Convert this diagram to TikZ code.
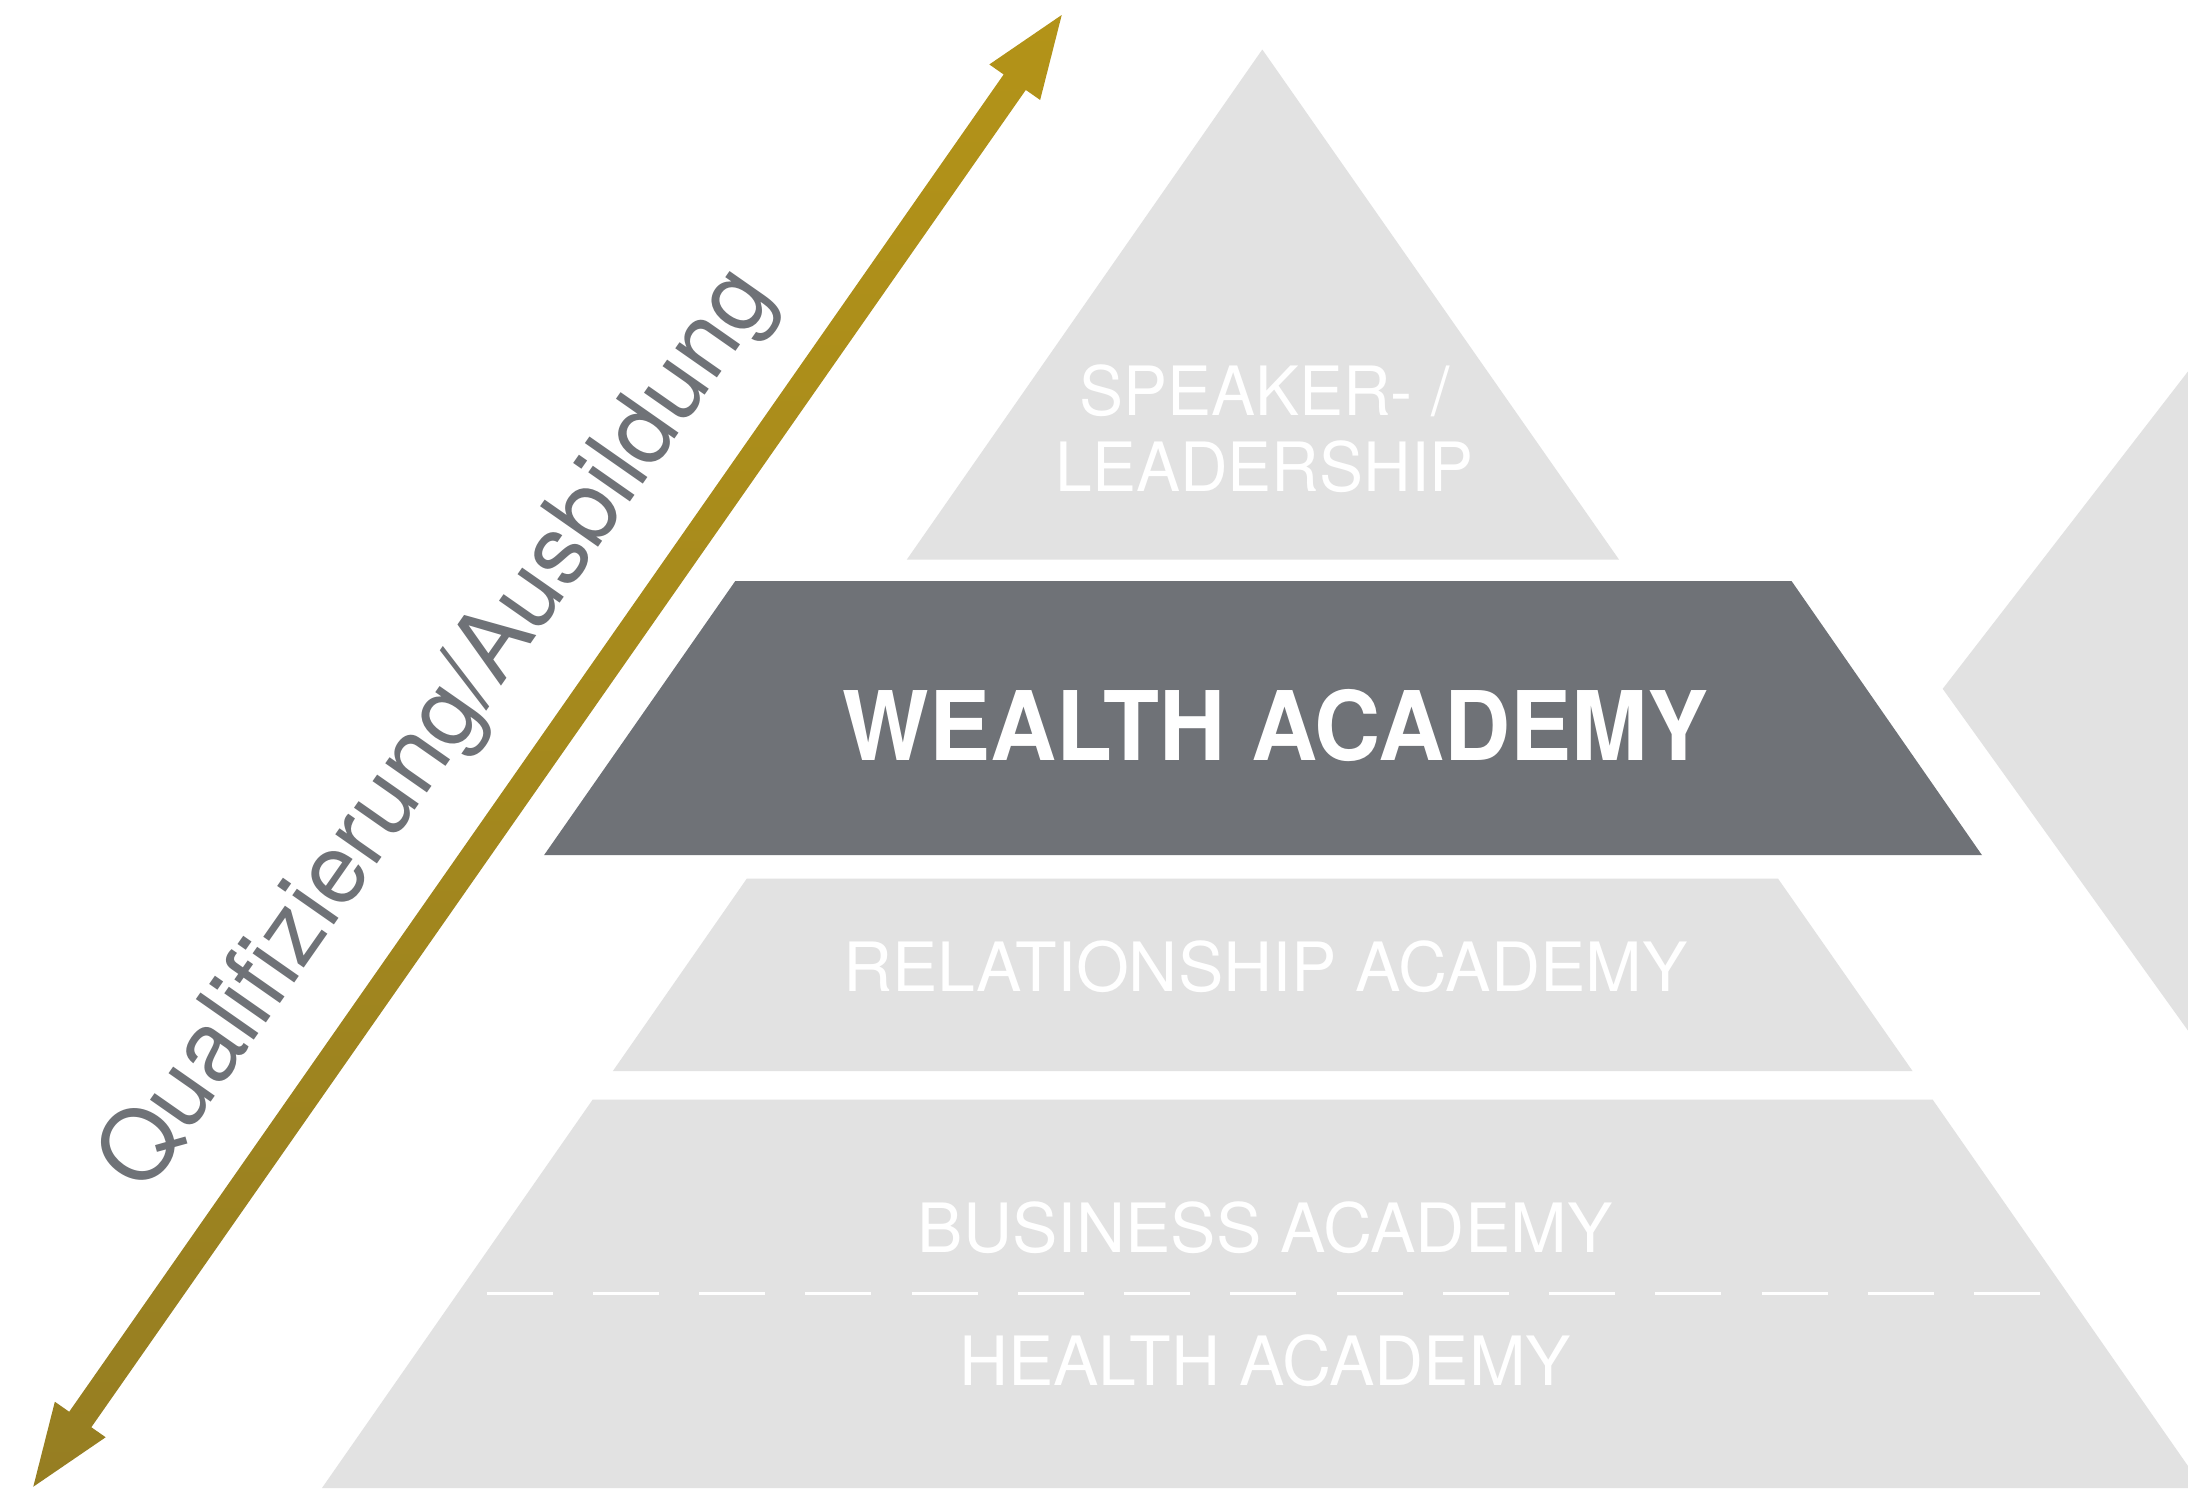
\documentclass[tikz,border=0pt]{standalone}
\usepackage{fontspec}
\setmainfont{TeX Gyre Heros}
\newfontfamily\wealthfont{TeX Gyre Heros}[FakeStretch=0.955]
\newfontfamily\narrowfont{TeX Gyre Heros}[FakeStretch=0.97]
\usetikzlibrary{calc}
\definecolor{pyrlight}{HTML}{E2E2E2}
\definecolor{pyrdark}{HTML}{6F7277}
\definecolor{arrtop}{HTML}{B39318}
\definecolor{arrbot}{HTML}{967E22}
\tikzset{
  layertext/.style={text=white, inner sep=0pt, anchor=base, font=\fontsize{34}{40}\selectfont},
  toptext/.style={text=white, inner sep=0pt, anchor=base, font=\narrowfont\fontsize{34}{40}\selectfont},
  wealthtext/.style={text=white, inner sep=0pt, anchor=base, font=\wealthfont\bfseries\fontsize{48}{56}\selectfont},
  axislabel/.style={text=pyrdark, inner sep=0pt, anchor=base, font=\fontsize{48.5}{56}\selectfont},
  dividerline/.style={white, line width=1.4pt, dash pattern=on 33pt off 20.12pt}
}
\begin{document}
\begin{tikzpicture}[x=0.5pt,y=-0.5pt]
\useasboundingbox (0,0) rectangle (2188,1488);
\fill[white] (0,0) rectangle (2188,1488);
\begin{scope}
\clip (0,0) rectangle (2188,1488);
% pyramid layers
\fill[pyrlight] (1262.3,49.5) -- (1619,559.6) -- (906.8,559.6) -- cycle;
\fill[pyrdark] (735.3,581) -- (1791.5,581) -- (1982,855.2) -- (544,855.2) -- cycle;
\fill[pyrlight] (746.8,878.6) -- (1778,878.6) -- (1912.5,1071) -- (612.9,1071) -- cycle;
\fill[pyrlight] (592.6,1099.7) -- (1932.7,1099.7) -- (2203.3,1488) -- (322,1488) -- cycle;
% right partial shape
\fill[pyrlight] (2188,371.4) -- (1942.7,688.8) -- (2188,1030.6) -- cycle;
% divider
\coordinate (dl) at (486.6,1293.3);
\coordinate (dr) at (2040,1293.3);
\draw[dividerline] (dl) -- (dr);
% double arrow
\coordinate (arrB) at (33.3,1486.7);
\coordinate (arrT) at (1061.7,15);
\coordinate (hb) at ($(arrB)!41pt!(arrT)$);
\coordinate (ht) at ($(arrT)!41pt!(arrB)$);
\shade[top color=arrtop, bottom color=arrbot]
  (arrT) -- ($(ht)!15.5pt!90:(arrB)$) -- ($(ht)!6.75pt!90:(arrB)$)
  -- ($(hb)!6.75pt!-90:(arrT)$) -- ($(hb)!15.5pt!-90:(arrT)$)
  -- (arrB) -- ($(hb)!15.5pt!90:(arrT)$) -- ($(hb)!6.75pt!90:(arrT)$)
  -- ($(ht)!6.75pt!-90:(arrB)$) -- ($(ht)!15.5pt!-90:(arrB)$) -- cycle;
\end{scope}
% texts
\node[axislabel, rotate=55.05] (axis) at (460.2,745.6) {Qualifizierung/Ausbildung};
\node[toptext] (speaker) at (1264.5,415.7) {SPEAKER- /};
\node[toptext] (leader) at (1264.5,491.3) {LEADERSHIP};
\node[wealthtext] (wealth) at (1275.9,760.8) {WEALTH ACADEMY};
\node[layertext] (relation) at (1265.4,991) {RELATIONSHIP ACADEMY};
\node[layertext] (business) at (1265,1252.3) {BUSINESS ACADEMY};
\node[layertext] (health) at (1265,1385.6) {HEALTH ACADEMY};
\end{tikzpicture}
\end{document}
